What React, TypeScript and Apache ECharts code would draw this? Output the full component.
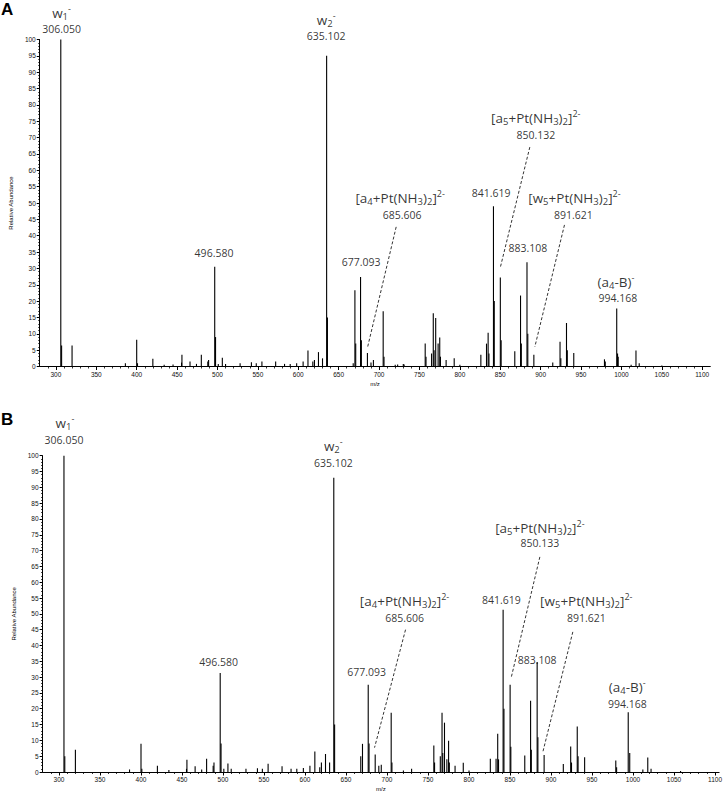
import React, { useEffect, useRef } from "react";
import * as echarts from "echarts";

// ---------- Data: panel A ----------
const mzA = [306.05, 307.05, 320.0, 386, 400.0, 401, 420.0, 434, 445, 455.5, 456.0, 466.0, 474.0, 480.0, 488, 489, 496.58, 497.6, 501, 506.0, 510, 528, 542, 548, 555, 572, 583, 590, 598, 606, 612, 618, 620, 625, 630, 635.1, 636.1, 668, 670.1, 671.1, 677.09, 678.1, 685.6, 690, 693, 705.1, 706.1, 720, 723, 730, 731, 757.1, 758.1, 765, 767.1, 768.1, 770.1, 773.1, 775.1, 776, 783, 793, 800, 826, 833, 835, 836, 841.6, 842.6, 850.1, 851.1, 868, 875.1, 876.1, 883.1, 884.1, 891.6, 915, 924, 925, 932, 933, 941, 979, 980, 994.17, 995.2, 996, 1012, 1018, 1022, 1050];
const intA = [100, 6.4, 6.4, 1.0, 8.2, 1, 2.4, 0.5, 0.6, 1.2, 3.6, 1.5, 0.8, 3.6, 1.5, 2.0, 30.5, 9, 0.8, 2.7, 0.8, 1.0, 1.3, 1.0, 1.5, 1.5, 0.8, 0.8, 1, 1.5, 4.9, 1.5, 2, 4.4, 2.5, 95, 15, 1, 23.3, 7, 27.4, 8, 4.1, 1.2, 2, 16.9, 3, 0.5, 0.6, 0.8, 0.6, 7, 3, 4, 16.3, 5, 14.8, 7, 8.9, 3, 2, 2.5, 0.5, 3.6, 7, 10.3, 4, 49, 20, 27.2, 8, 4.7, 21.7, 7, 31.9, 10, 3.6, 1.2, 7.6, 2.5, 13.3, 5, 4.1, 2.2, 1.5, 17.7, 4, 3, 0.5, 4.9, 1, 0.3];

// ---------- Data: panel B ----------
const mzB = [306.05, 307.05, 320, 386, 400, 401, 420, 434, 455.5, 456, 466, 474, 480, 488, 489, 496.58, 497.6, 501, 506, 510, 528, 542, 548, 555, 572, 583, 590, 598, 606, 612, 618, 620, 625, 630, 635.1, 636.1, 668, 670.1, 677.09, 678.1, 685.6, 690, 693, 705.1, 706, 720, 730, 757.1, 758, 765, 767.1, 768, 770.1, 773, 775.1, 776, 783, 793, 800, 826, 833, 835, 836, 841.6, 842.6, 850.13, 851, 868, 875.1, 876, 883.1, 884, 891.6, 915, 924, 925, 932, 933, 941, 979, 980, 994.17, 996, 1012, 1018, 1022, 1058];
const intB = [100, 5, 7, 0.8, 8.9, 1, 2, 0.6, 1, 3.9, 1.8, 0.8, 4.2, 2, 3, 31.3, 9, 1, 2.7, 1, 1, 1.2, 1, 2.6, 1.8, 1, 1, 1.3, 2, 6.5, 1.5, 3, 5.7, 3, 93, 15, 5, 8.9, 27.6, 9, 5.5, 2, 2.3, 18.7, 3, 0.5, 1, 8.4, 3, 5, 18.7, 6, 15.6, 4, 9.9, 3, 2, 2.9, 0.5, 4.2, 4.2, 12.1, 4, 51.3, 20, 27.6, 8, 5.2, 22.5, 7, 34.8, 11, 5.4, 2.5, 8.1, 3, 14.4, 5, 4.7, 3.6, 1.5, 18.9, 6, 0.8, 4.6, 1, 0.3];

// ---------- Tick labels ----------
const xMajorTicks = [300, 350, 400, 450, 500, 550, 600, 650, 700, 750, 800, 850, 900, 950, 1000, 1050, 1100];
const xMinorTicks = [290, 300, 310, 320, 330, 340, 350, 360, 370, 380, 390, 400, 410, 420, 430, 440, 450, 460, 470, 480, 490, 500, 510, 520, 530, 540, 550, 560, 570, 580, 590, 600, 610, 620, 630, 640, 650, 660, 670, 680, 690, 700, 710, 720, 730, 740, 750, 760, 770, 780, 790, 800, 810, 820, 830, 840, 850, 860, 870, 880, 890, 900, 910, 920, 930, 940, 950, 960, 970, 980, 990, 1000, 1010, 1020, 1030, 1040, 1050, 1060, 1070, 1080, 1090, 1100];

// ---------- Annotations: panel A ----------
const nameTextA = ["w{s|1}{p|-}", "w{s|2}{p|-}", "[a{s|4}+Pt(NH{s|3}){s|2}]{p|2-}", "[a{s|5}+Pt(NH{s|3}){s|2}]{p|2-}", "[w{s|5}+Pt(NH{s|3}){s|2}]{p|2-}", "(a{s|4}-B){p|-}"];
const nameXA = [307, 634.5, 726.1, 894, 941.8, 993.2];
const nameYA = [108.1, 106.0, 51.5, 76.0, 51.5, 25.9];
const numTextA = ["306.050", "635.102", "496.580", "677.093", "685.606", "841.619", "850.132", "891.621", "883.108", "994.168"];
const numXA = [307, 634.5, 495.7, 677.7, 728.5, 838.8, 894, 940.5, 884.2, 995.6];
const numYA = [103.1, 101.0, 34.7, 32.0, 46.3, 53.0, 70.8, 46.3, 36.2, 20.9];
const leadersA = [
  [886.6, 67.1, 849.9, 30.1],
  [721.2, 42.7, 685.6, 5.7],
  [929.5, 43.3, 892.8, 6.0],
];

// ---------- Annotations: panel B ----------
const nameTextB = nameTextA;
const nameXB = [307.3, 634.5, 721.4, 886.4, 943, 993];
const nameYB = [110.3, 103.0, 54.0, 77.1, 54.0, 26.8];
const numTextB = ["306.050", "635.102", "496.580", "677.093", "685.606", "841.619", "850.133", "891.621", "883.108", "994.168"];
const numXB = [306.1, 634.5, 494.8, 675.1, 721.4, 839.5, 886.4, 943, 883, 993];
const numYB = [104.9, 97.6, 34.8, 31.6, 48.8, 54.4, 72.4, 48.8, 35.4, 21.5];
const leadersB = [
  [886.4, 68.0, 851.7, 30.1],
  [722.6, 45.0, 684.8, 7.7],
  [926.6, 44.3, 890.1, 6.4],
];

const LABEL_FONT = "Open Sans";
const AXIS_FONT = "Liberation Sans";

function buildPanel(idx: number, mz: number[], inten: number[], nameText: string[], nameX: number[], nameY: number[], numText: string[], numX: number[], numY: number[], leaders: number[][], xMin: number, xMax: number) {
  const xMajor = idx * 2;
  const xAxes = [
    {
      type: "value", gridIndex: idx, min: xMin, max: xMax, position: "bottom",
      name: "m/z", nameLocation: "middle", nameGap: 14,
      nameTextStyle: { fontSize: 6, fontFamily: AXIS_FONT, color: "#000" },
      axisLine: { show: true, lineStyle: { color: "#000", width: 1 } },
      axisTick: { show: true, length: 3.5, customValues: xMajorTicks, lineStyle: { color: "#000", width: 1 } },
      axisLabel: { show: true, customValues: xMajorTicks, formatter: (v: number) => String(v), fontSize: 6.5, margin: 4, fontFamily: AXIS_FONT, color: "#111" },
      splitLine: { show: false },
    },
    {
      type: "value", gridIndex: idx, min: xMin, max: xMax, position: "bottom",
      axisLine: { show: false },
      axisTick: { show: true, length: 2, customValues: xMinorTicks, lineStyle: { color: "#000", width: 0.8 } },
      axisLabel: { show: false },
      splitLine: { show: false },
    },
  ];
  const yAxis = {
    type: "value", gridIndex: idx, min: 0, max: 100, interval: 5,
    name: "Relative Abundance", nameLocation: "middle", nameGap: 14,
    nameTextStyle: { fontSize: 6, fontFamily: AXIS_FONT, color: "#000" },
    axisLine: { show: true, lineStyle: { color: "#000", width: 1 } },
    axisTick: { show: true, length: 3, lineStyle: { color: "#000", width: 1 } },
    minorTick: { show: true, splitNumber: 5, length: 1.5, lineStyle: { color: "#000", width: 0.8 } },
    axisLabel: { fontSize: 6.5, margin: 4, fontFamily: AXIS_FONT, color: "#111" },
    splitLine: { show: false },
    minorSplitLine: { show: false },
  };

  const sticks = {
    type: "custom", xAxisIndex: xMajor, yAxisIndex: idx, silent: true,
    data: mz.map((m, i) => [m, inten[i]]),
    encode: { x: 0, y: 1 },
    renderItem: (_p: any, api: any) => {
      const x = api.value(0);
      const y = api.value(1);
      const p0 = api.coord([x, 0]);
      const p1 = api.coord([x, y]);
      return {
        type: "line",
        shape: { x1: p0[0], y1: p0[1], x2: p1[0], y2: p1[1] },
        style: { stroke: "#000", lineWidth: 1.1 },
      };
    },
  };

  const richStyles = {
    s: { fontSize: 9.5, fontFamily: LABEL_FONT, color: "#000", padding: [7, 0, 0, 0], lineHeight: 12 },
    p: { fontSize: 9, fontFamily: LABEL_FONT, color: "#000", padding: [0, 0, 9, 0], lineHeight: 12 },
  };

  const names = {
    type: "scatter", xAxisIndex: xMajor, yAxisIndex: idx, silent: true, clip: false,
    symbolSize: 1, itemStyle: { color: "rgba(0,0,0,0)" },
    data: nameX.map((x, i) => ({ value: [x, nameY[i]], label: { formatter: nameText[i] } })),
    label: { show: true, position: "inside", fontSize: 13.5, lineHeight: 12, fontFamily: LABEL_FONT, color: "#000", rich: richStyles },
  };
  const nums = {
    type: "scatter", xAxisIndex: xMajor, yAxisIndex: idx, silent: true, clip: false,
    symbolSize: 1, itemStyle: { color: "rgba(0,0,0,0)" },
    data: numX.map((x, i) => ({ value: [x, numY[i]], label: { formatter: numText[i] } })),
    label: { show: true, position: "inside", fontSize: 10.5, lineHeight: 10, fontFamily: LABEL_FONT, color: "#000" },
  };
  const leaderSeries = leaders.map((l) => ({
    type: "line", xAxisIndex: xMajor, yAxisIndex: idx, silent: true, clip: false,
    symbol: "none",
    data: [[l[0], l[1]], [l[2], l[3]]],
    lineStyle: { color: "#000", width: 0.8, type: [3, 2] },
  }));

  return { xAxes, yAxis, series: [sticks, ...leaderSeries, names, nums] };
}

export default function App() {
  const ref = useRef<HTMLDivElement>(null);
  useEffect(() => {
    if (!ref.current) return;
    const chart = echarts.init(ref.current, undefined, { renderer: "svg" });
    const a = buildPanel(0, mzA, intA, nameTextA, nameXA, nameYA, numTextA, numXA, numYA, leadersA, 280, 1110);
    const b = buildPanel(1, mzB, intB, nameTextB, nameXB, nameYB, numTextB, numXB, numYB, leadersB, 280, 1105);
    chart.setOption({
      animation: false,
      backgroundColor: "#fff",
      grid: [
        { left: 33, top: 39.5, width: 677.3, height: 327 },
        { left: 42.6, top: 455.7, width: 677.4, height: 316.6 },
      ],
      xAxis: [...a.xAxes, ...b.xAxes],
      yAxis: [a.yAxis, b.yAxis],
      series: [...a.series, ...b.series],
      graphic: [
        { type: "text", left: 1, top: 1, style: { text: "A", font: "bold 17px 'Liberation Sans'", fill: "#000" } },
        { type: "text", left: 1, top: 411, style: { text: "B", font: "bold 17px 'Liberation Sans'", fill: "#000" } },
      ],
    } as any);
    return () => chart.dispose();
  }, []);
  return <div ref={ref} style={{ position: "absolute", left: 0, top: 0, width: 725, height: 793 }} />;
}
